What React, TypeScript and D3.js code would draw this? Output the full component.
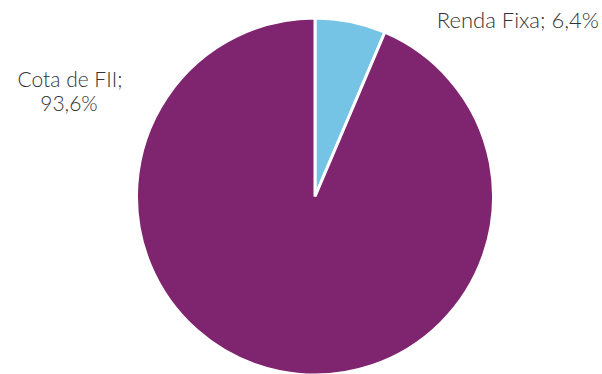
import React from "react";
import * as d3 from "d3";

const categories = ["Renda Fixa", "Cota de FII"];
const values = [6.4, 93.6];
const labels = ["Renda Fixa; 6,4%", "Cota de FII;|93,6%"];
const colors = ["#75C3E5", "#7F246F"];

export default function App() {
  const W = 602, H = 374;
  const cx = 315, cy = 196.5, r = 178.5;
  const pie = d3.pie<number>().sort(null).value((d) => d)(values);
  const arc = d3.arc<d3.PieArcDatum<number>>().innerRadius(0).outerRadius(r);
  const [l1, l2] = labels[1].split("|");
  return (
    <svg width={W} height={H} style={{ position: "absolute", left: 0, top: 0 }}>
      <g transform={`translate(${cx},${cy})`}>
        {pie.map((p, i) => (
          <path key={categories[i]} d={arc(p) || ""} fill={colors[i]} stroke="#fff" strokeWidth={3} strokeLinejoin="miter" />
        ))}
      </g>
      <g fontFamily="Lato" fontWeight={300} fill="#333333">
        <text x={599} y={28} fontSize={22} textAnchor="end">{labels[0]}</text>
        <text x={70} textAnchor="middle" fontSize={21}>
          <tspan x={70} y={87}>{l1}</tspan>
          <tspan x={69} y={111}>{l2}</tspan>
        </text>
      </g>
    </svg>
  );
}
